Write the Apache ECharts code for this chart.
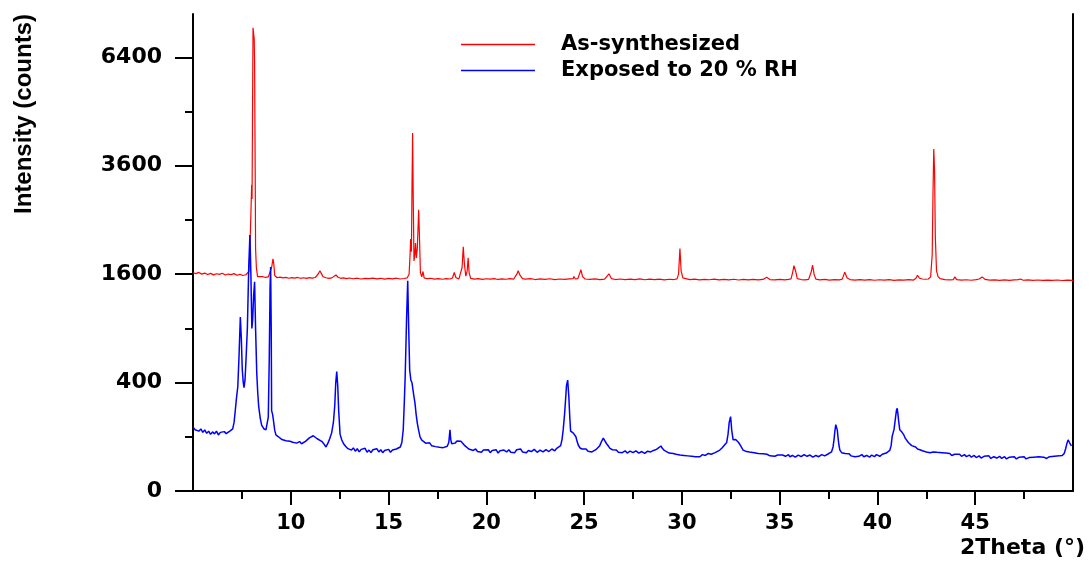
<!DOCTYPE html>
<html>
<head>
<meta charset="utf-8">
<script src="https://cdn.jsdelivr.net/npm/echarts@6/dist/echarts.min.js"></script>
<style>
  html, body { margin: 0; padding: 0; background: #fff; }
  #chart { width: 1092px; height: 562px; }
</style>
</head>
<body>
<div id="chart"></div>
<script>
// 2Theta (deg), intensity (counts)
const asSynthesized = [
  [5.0,1622],[5.15,1608],[5.3,1626],[5.45,1601],[5.6,1615],[5.75,1596],[5.9,1612],[6.05,1590],[6.2,1606],[6.35,1598],
  [6.5,1614],[6.65,1588],[6.8,1602],[6.95,1593],[7.1,1608],[7.25,1584],[7.4,1598],[7.55,1580],[7.7,1592],[7.8,1586],
  [7.86,1640],[7.9,1900],[7.96,2600],[8.0,3190],[8.02,2900],[8.05,5500],[8.07,7300],[8.1,7250],[8.13,6950],[8.15,6200],
  [8.18,3500],[8.2,2000],[8.24,1700],[8.3,1565],[8.4,1558],[8.55,1566],[8.7,1552],[8.85,1560],[8.95,1562],[9.02,1700],
  [9.09,1835],[9.13,1760],[9.18,1580],[9.3,1548],[9.45,1556],[9.6,1545],[9.75,1553],[9.9,1541],[10.05,1550],[10.2,1543],
  [10.35,1552],[10.5,1540],[10.65,1548],[10.8,1538],[10.95,1549],[11.1,1542],[11.25,1551],[11.35,1560],[11.42,1610],[11.49,1650],
  [11.56,1612],[11.65,1562],[11.8,1548],[11.95,1540],[12.1,1546],[12.2,1552],[12.31,1588],[12.42,1555],[12.55,1540],[12.7,1547],
  [12.85,1536],[13.0,1544],[13.2,1533],[13.4,1541],[13.6,1530],[13.8,1539],[14.0,1534],[14.2,1543],[14.4,1531],[14.6,1540],
  [14.8,1529],[15.0,1538],[15.2,1532],[15.4,1541],[15.6,1530],[15.8,1537],[15.95,1545],[16.05,1600],[16.1,1900],[16.13,2160],
  [16.17,1950],[16.2,3200],[16.23,4360],[16.26,3000],[16.3,1800],[16.34,1900],[16.38,2094],[16.42,1850],[16.47,2000],[16.54,2690],
  [16.58,2200],[16.63,1620],[16.7,1560],[16.76,1640],[16.82,1545],[16.95,1534],[17.15,1540],[17.35,1528],[17.55,1536],[17.75,1526],
  [17.95,1535],[18.15,1530],[18.27,1545],[18.36,1625],[18.45,1548],[18.6,1532],[18.7,1542],[18.76,1700],[18.82,2030],[18.88,1750],
  [18.95,1570],[19.02,1650],[19.07,1850],[19.12,1620],[19.2,1538],[19.4,1528],[19.6,1535],[19.8,1524],[20.0,1533],[20.2,1527],
  [20.4,1536],[20.6,1523],[20.8,1531],[21.0,1526],[21.2,1534],[21.4,1529],[21.5,1545],[21.56,1600],[21.63,1650],[21.72,1585],
  [21.85,1536],[22.0,1528],[22.25,1535],[22.5,1522],[22.75,1531],[23.0,1525],[23.25,1533],[23.5,1521],[23.75,1530],[24.0,1524],
  [24.25,1532],[24.44,1535],[24.48,1565],[24.55,1530],[24.68,1535],[24.75,1560],[24.84,1665],[24.92,1565],[25.05,1530],[25.3,1524],
  [25.55,1532],[25.8,1521],[26.05,1529],[26.15,1535],[26.27,1605],[26.4,1534],[26.6,1522],[26.85,1530],[27.1,1520],[27.35,1528],
  [27.6,1522],[27.85,1531],[28.1,1519],[28.35,1527],[28.6,1521],[28.85,1529],[29.1,1518],[29.35,1526],[29.6,1522],[29.75,1532],
  [29.83,1600],[29.9,2000],[29.96,1650],[30.05,1545],[30.15,1528],[30.4,1520],[30.65,1527],[30.9,1517],[31.15,1525],[31.4,1519],
  [31.65,1528],[31.9,1516],[32.15,1524],[32.4,1518],[32.65,1526],[32.9,1515],[33.15,1523],[33.4,1517],[33.65,1525],[33.9,1516],
  [34.15,1524],[34.33,1555],[34.5,1522],[34.75,1516],[35.0,1524],[35.25,1517],[35.45,1525],[35.58,1532],[35.66,1620],[35.73,1730],
  [35.82,1640],[35.9,1535],[36.1,1522],[36.3,1516],[36.48,1524],[36.55,1532],[36.62,1640],[36.68,1735],[36.76,1600],[36.85,1528],
  [37.05,1518],[37.3,1524],[37.55,1514],[37.8,1522],[38.05,1517],[38.2,1528],[38.33,1630],[38.45,1545],[38.6,1522],[38.85,1514],
  [39.1,1521],[39.35,1513],[39.6,1520],[39.85,1512],[40.1,1519],[40.35,1513],[40.6,1520],[40.85,1511],[41.1,1518],[41.35,1513],
  [41.6,1520],[41.85,1514],[41.97,1540],[42.05,1583],[42.15,1540],[42.3,1530],[42.45,1526],[42.6,1530],[42.72,1560],[42.8,1900],
  [42.84,3000],[42.88,3980],[42.92,3500],[42.96,2200],[43.02,1650],[43.1,1565],[43.2,1535],[43.45,1521],[43.7,1516],[43.88,1522],
  [43.96,1560],[44.05,1520],[44.3,1513],[44.55,1519],[44.8,1512],[45.05,1520],[45.2,1530],[45.35,1560],[45.5,1525],[45.75,1513],
  [46.0,1518],[46.25,1511],[46.5,1517],[46.75,1510],[47.0,1516],[47.2,1520],[47.32,1530],[47.45,1512],[47.7,1517],[47.95,1510],
  [48.2,1515],[48.45,1509],[48.7,1514],[48.95,1510],[49.2,1515],[49.45,1508],[49.7,1513],[50.0,1510]
];

const exposedRH = [
  [5.0,140],[5.1,128],[5.2,136],[5.3,122],[5.4,131],[5.5,117],[5.6,127],[5.7,113],[5.8,122],[5.9,109],
  [6.0,119],[6.1,111],[6.2,122],[6.3,107],[6.4,117],[6.5,110],[6.6,120],[6.7,112],[6.8,118],[6.9,123],
  [7.03,131],[7.1,160],[7.15,207],[7.22,290],[7.29,370],[7.35,600],[7.42,1031],[7.47,800],[7.52,500],[7.57,400],
  [7.61,363],[7.66,420],[7.71,584],[7.78,900],[7.85,1700],[7.91,2231],[7.96,1600],[8.01,900],[8.05,995],[8.1,1300],
  [8.15,1491],[8.2,900],[8.26,474],[8.31,330],[8.36,242],[8.44,180],[8.51,148],[8.62,132],[8.73,127],[8.8,160],
  [8.85,186],[8.9,600],[8.94,1400],[8.97,1708],[9.0,900],[9.02,220],[9.07,200],[9.11,172],[9.18,125],[9.24,107],
  [9.35,101],[9.45,96],[9.55,90],[9.65,94],[9.75,86],[9.85,90],[9.96,84],[10.1,81],[10.2,86],[10.3,78],
  [10.45,83],[10.55,76],[10.62,80],[10.75,84],[10.85,90],[10.95,96],[11.05,99],[11.15,104],[11.25,97],[11.35,93],
  [11.45,88],[11.58,84],[11.7,75],[11.8,66],[11.9,78],[12.0,95],[12.09,115],[12.18,160],[12.25,250],[12.3,400],
  [12.35,485],[12.4,380],[12.45,220],[12.52,110],[12.6,90],[12.7,76],[12.8,68],[12.9,62],[13.0,66],[13.1,57],
  [13.2,63],[13.3,54],[13.4,61],[13.5,52],[13.6,59],[13.7,55],[13.8,62],[13.9,51],[14.0,57],[14.1,50],
  [14.2,58],[14.3,53],[14.4,61],[14.5,52],[14.6,58],[14.7,50],[14.8,56],[14.9,53],[15.0,59],[15.1,51],
  [15.2,57],[15.3,54],[15.4,60],[15.5,58],[15.6,66],[15.68,80],[15.75,127],[15.8,250],[15.85,445],[15.92,1000],
  [15.98,1505],[16.03,900],[16.08,498],[16.14,420],[16.2,397],[16.28,320],[16.35,264],[16.41,200],[16.47,157],[16.54,125],
  [16.61,100],[16.7,88],[16.8,82],[16.9,78],[17.0,74],[17.1,79],[17.2,70],[17.3,75],[17.4,67],[17.5,72],
  [17.6,65],[17.7,71],[17.8,64],[17.9,69],[18.0,68],[18.08,80],[18.14,127],[18.18,90],[18.23,76],[18.3,80],
  [18.4,78],[18.5,85],[18.6,88],[18.7,84],[18.8,77],[18.9,70],[19.0,66],[19.1,60],[19.2,62],[19.33,56],
  [19.45,60],[19.55,53],[19.65,58],[19.75,51],[19.85,57],[19.95,52],[20.1,58],[20.2,50],[20.3,56],[20.4,52],
  [20.5,58],[20.6,49],[20.7,55],[20.8,51],[20.9,57],[21.04,52],[21.15,58],[21.25,51],[21.35,56],[21.45,50],
  [21.55,58],[21.65,53],[21.75,60],[21.85,52],[21.95,57],[22.05,50],[22.15,56],[22.3,53],[22.45,59],[22.6,51],
  [22.75,57],[22.9,52],[23.05,58],[23.2,53],[23.35,60],[23.5,55],[23.6,62],[23.7,60],[23.8,70],[23.87,90],
  [23.93,127],[24.0,200],[24.05,280],[24.1,380],[24.16,419],[24.22,300],[24.27,180],[24.31,122],[24.38,118],[24.45,114],
  [24.52,108],[24.58,100],[24.64,84],[24.7,72],[24.79,63],[24.9,60],[25.0,56],[25.1,60],[25.2,54],[25.3,58],
  [25.4,52],[25.47,55],[25.6,58],[25.7,62],[25.8,70],[25.9,85],[25.98,95],[26.05,88],[26.15,76],[26.25,68],
  [26.32,62],[26.45,58],[26.55,54],[26.65,57],[26.75,51],[26.85,55],[26.95,50],[27.1,55],[27.2,49],[27.35,54],
  [27.5,50],[27.65,55],[27.8,49],[27.95,53],[28.1,48],[28.25,54],[28.4,52],[28.55,56],[28.7,59],[28.8,63],
  [28.93,69],[29.0,62],[29.1,56],[29.2,52],[29.35,49],[29.45,52],[29.56,48],[29.7,46],[29.8,50],[29.9,44],
  [30.0,48],[30.1,43],[30.2,47],[30.3,42],[30.4,46],[30.5,41],[30.6,45],[30.7,40],[30.8,44],[30.92,40],
  [31.05,45],[31.2,43],[31.35,48],[31.5,46],[31.6,51],[31.7,50],[31.8,55],[31.94,57],[32.05,63],[32.15,70],
  [32.22,75],[32.29,80],[32.36,110],[32.42,160],[32.49,188],[32.55,125],[32.62,89],[32.68,86],[32.75,90],[32.83,86],
  [32.9,80],[33.0,70],[33.05,64],[33.13,57],[33.25,54],[33.35,50],[33.45,52],[33.55,47],[33.7,50],[33.8,45],
  [33.9,48],[34.0,44],[34.15,47],[34.25,43],[34.35,46],[34.5,42],[34.6,45],[34.75,41],[34.9,44],[35.0,40],
  [35.15,44],[35.3,41],[35.45,45],[35.52,40],[35.65,43],[35.8,39],[35.95,44],[36.1,40],[36.25,45],[36.4,41],
  [36.55,44],[36.7,39],[36.85,43],[37.0,40],[37.15,45],[37.3,42],[37.45,46],[37.55,44],[37.65,52],[37.73,66],
  [37.78,90],[37.82,120],[37.87,150],[37.91,157],[37.95,125],[37.98,100],[38.03,72],[38.08,57],[38.17,50],[38.25,46],
  [38.35,48],[38.42,44],[38.55,47],[38.65,42],[38.75,45],[38.85,40],[38.95,44],[39.05,41],[39.2,45],[39.3,40],
  [39.45,43],[39.6,39],[39.7,44],[39.85,40],[39.95,45],[40.12,41],[40.25,46],[40.35,44],[40.45,49],[40.55,52],
  [40.63,56],[40.7,70],[40.75,100],[40.8,115],[40.85,130],[40.92,180],[40.97,220],[41.01,233],[41.05,200],[41.08,170],
  [41.14,128],[41.2,122],[41.25,118],[41.3,112],[41.35,107],[41.42,95],[41.5,88],[41.58,80],[41.66,74],[41.75,70],
  [41.85,64],[41.95,66],[42.05,60],[42.17,58],[42.3,55],[42.4,58],[42.5,52],[42.6,55],[42.7,50],[42.85,52],
  [42.95,48],[43.05,51],[43.15,46],[43.3,50],[43.4,45],[43.5,49],[43.6,44],[43.7,48],[43.8,43],[43.95,46],
  [44.05,42],[44.2,46],[44.3,41],[44.45,45],[44.55,40],[44.7,44],[44.8,39],[44.95,43],[45.05,38],[45.2,42],
  [45.3,37],[45.45,41],[45.55,38],[45.7,42],[45.8,36],[45.95,40],[46.1,37],[46.25,41],[46.35,36],[46.5,40],
  [46.6,35],[46.75,39],[46.85,36],[47.0,40],[47.1,35],[47.25,39],[47.35,36],[47.5,40],[47.6,35],[47.75,38],
  [47.85,35],[48.0,39],[48.1,36],[48.25,40],[48.35,36],[48.5,39],[48.65,36],[48.8,40],[48.9,37],[49.05,41],
  [49.15,38],[49.3,42],[49.45,43],[49.55,48],[49.62,60],[49.68,75],[49.75,89],[49.82,80],[49.92,69]
];

const seriesNames = ['As-synthesized', 'Exposed to 20 % RH'];
const xMajorTicks = [10, 15, 20, 25, 30, 35, 40, 45];
const xMinorTicks = [7.5, 12.5, 17.5, 22.5, 27.5, 32.5, 37.5, 42.5, 47.5];
const yMajorCounts = [0, 400, 1600, 3600, 6400];
const yMinorCounts = [100, 900, 2500, 4900];
const yTopCounts = 7744;

// the plot uses a square-root intensity scale
const toSqrt = (pts) => pts.map(([t, c]) => [t, Math.sqrt(c)]);
const sqrtMax = Math.sqrt(yTopCounts);

const chart = echarts.init(document.getElementById('chart'));
const black = '#000';
const boldText = (family, size) => ({
  fontFamily: family, fontWeight: 'bold', fontSize: size, color: black
});

const xBase = {
  type: 'value', min: 5, max: 50, position: 'bottom',
  splitLine: { show: false }
};
const yBase = {
  type: 'value', min: 0, max: sqrtMax,
  splitLine: { show: false }
};

chart.setOption({
  animation: false,
  backgroundColor: '#fff',
  grid: { left: 193, right: 19, top: 14, bottom: 71 },
  legend: {
    orient: 'vertical',
    left: 461,
    top: 34,
    padding: 0,
    icon: 'rect',
    itemWidth: 74,
    itemHeight: 1.5,
    itemGap: 5,
    data: seriesNames,
    textStyle: Object.assign(boldText('DejaVu Sans', 21), { padding: [0, 0, 0, 21] })
  },
  xAxis: [
    Object.assign({}, xBase, {
      axisLine: { onZero: false, lineStyle: { color: black, width: 2 } },
      axisTick: { customValues: xMajorTicks, length: 14, lineStyle: { color: black, width: 2 } },
      axisLabel: Object.assign(
        { customValues: xMajorTicks, margin: 22 },
        boldText('DejaVu Sans', 21)
      )
    }),
    Object.assign({}, xBase, {
      axisLine: { show: false },
      axisTick: { customValues: xMinorTicks, length: 8, lineStyle: { color: black, width: 2 } },
      axisLabel: { show: false }
    })
  ],
  yAxis: [
    Object.assign({}, yBase, {
      position: 'left',
      axisLine: { onZero: false, lineStyle: { color: black, width: 2 } },
      axisTick: { customValues: yMajorCounts.map(Math.sqrt), length: 18, lineStyle: { color: black, width: 2 } },
      axisLabel: Object.assign(
        {
          customValues: yMajorCounts.map(Math.sqrt),
          margin: 31,
          formatter: (v) => String(Math.round(v * v))
        },
        boldText('DejaVu Sans', 22)
      )
    }),
    Object.assign({}, yBase, {
      position: 'left',
      axisLine: { show: false },
      axisTick: { customValues: yMinorCounts.map(Math.sqrt), length: 8, lineStyle: { color: black, width: 2 } },
      axisLabel: { show: false }
    }),
    Object.assign({}, yBase, {
      position: 'right',
      axisLine: { show: true, onZero: false, lineStyle: { color: black, width: 2 } },
      axisTick: { show: false },
      axisLabel: { show: false }
    })
  ],
  graphic: [
    {
      type: 'text',
      x: 24,
      y: 114,
      rotation: Math.PI / 2,
      style: {
        text: 'Intensity (counts)',
        align: 'center',
        verticalAlign: 'middle',
        font: 'bold 24px "Liberation Sans", Arial',
        fill: black
      }
    },
    {
      type: 'text',
      x: 1085,
      y: 548,
      style: {
        text: '2Theta (°)',
        align: 'right',
        verticalAlign: 'middle',
        font: 'bold 22px "DejaVu Sans"',
        fill: black
      }
    }
  ],
  series: [
    {
      name: seriesNames[0],
      type: 'line',
      data: toSqrt(asSynthesized),
      showSymbol: false,
      symbol: 'none',
      lineStyle: { color: '#ff0000', width: 1.2 },
      itemStyle: { color: '#ff0000' }
    },
    {
      name: seriesNames[1],
      type: 'line',
      data: toSqrt(exposedRH),
      showSymbol: false,
      symbol: 'none',
      lineStyle: { color: '#0000ff', width: 1.5 },
      itemStyle: { color: '#0000ff' }
    }
  ]
});
</script>
</body>
</html>
